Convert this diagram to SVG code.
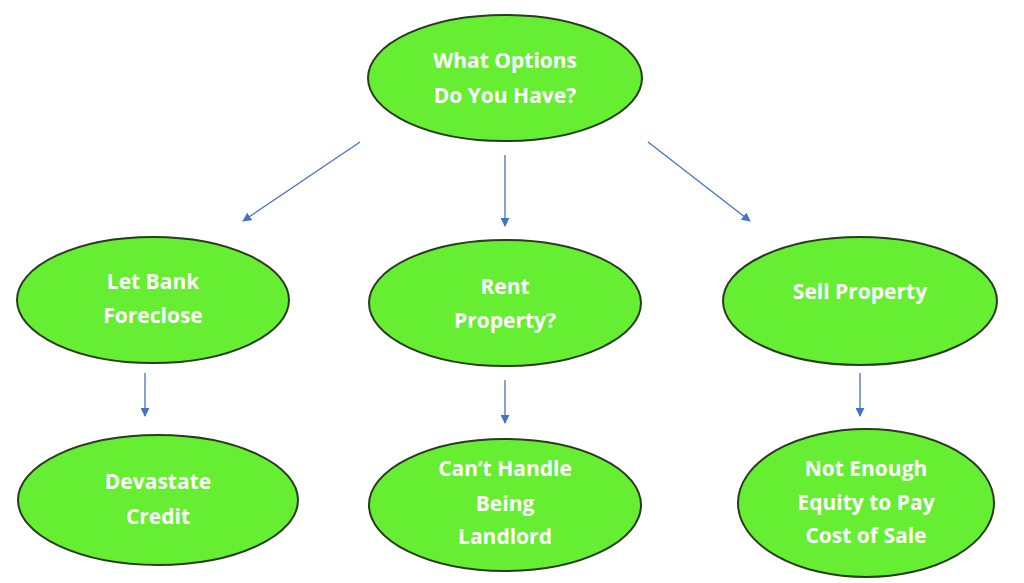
<svg xmlns="http://www.w3.org/2000/svg" width="1024" height="583" viewBox="0 0 1024 583">
<defs>
<style>
.n{fill:#66ee33;stroke:#2a3b1f;stroke-width:2}
.t{fill:#fff;font-family:"Open Sans","Liberation Sans",sans-serif;font-weight:bold;font-size:21px;text-anchor:middle}
.c{stroke:#4472c4;stroke-width:1.3;fill:none;marker-end:url(#a)}
</style>
<marker id="a" viewBox="0 0 10 10" refX="9" refY="5" markerWidth="9" markerHeight="9" orient="auto" markerUnits="userSpaceOnUse"><path d="M0,0L10,5L0,10z" fill="#4472c4"/></marker>
</defs>
<rect width="1024" height="583" fill="#fff"/>
<g id="connectors">
<line class="c" x1="360" y1="142" x2="243" y2="221"/>
<line class="c" x1="505" y1="155" x2="505" y2="226"/>
<line class="c" x1="648" y1="142" x2="750" y2="221"/>
<line class="c" x1="145" y1="373" x2="145" y2="416"/>
<line class="c" x1="505" y1="380" x2="505" y2="423"/>
<line class="c" x1="860" y1="373" x2="860" y2="416"/>
</g>
<g id="top"><ellipse class="n" cx="505" cy="78" rx="137" ry="63"/><text class="t" x="505" y="68">What Options</text><text class="t" x="505" y="103">Do You Have?</text></g>
<g id="bank"><ellipse class="n" cx="153" cy="300" rx="136" ry="63"/><text class="t" x="153" y="289">Let Bank</text><text class="t" x="153" y="323">Foreclose</text></g>
<g id="rent"><ellipse class="n" cx="505" cy="303" rx="136" ry="63"/><text class="t" x="505" y="294">Rent</text><text class="t" x="505" y="328">Property?</text></g>
<g id="sell"><ellipse class="n" cx="860" cy="301" rx="137" ry="64"/><text class="t" x="860" y="299">Sell Property</text></g>
<g id="credit"><ellipse class="n" cx="158" cy="500" rx="140" ry="65"/><text class="t" x="158" y="489">Devastate</text><text class="t" x="158" y="524">Credit</text></g>
<g id="landlord"><ellipse class="n" cx="505" cy="505" rx="136" ry="66"/><text class="t" x="505" y="476">Can’t Handle</text><text class="t" x="505" y="511">Being</text><text class="t" x="505" y="544">Landlord</text></g>
<g id="equity"><ellipse class="n" cx="866" cy="503" rx="128" ry="74"/><text class="t" x="866" y="476">Not Enough</text><text class="t" x="866" y="510">Equity to Pay</text><text class="t" x="866" y="543">Cost of Sale</text></g>
</svg>
